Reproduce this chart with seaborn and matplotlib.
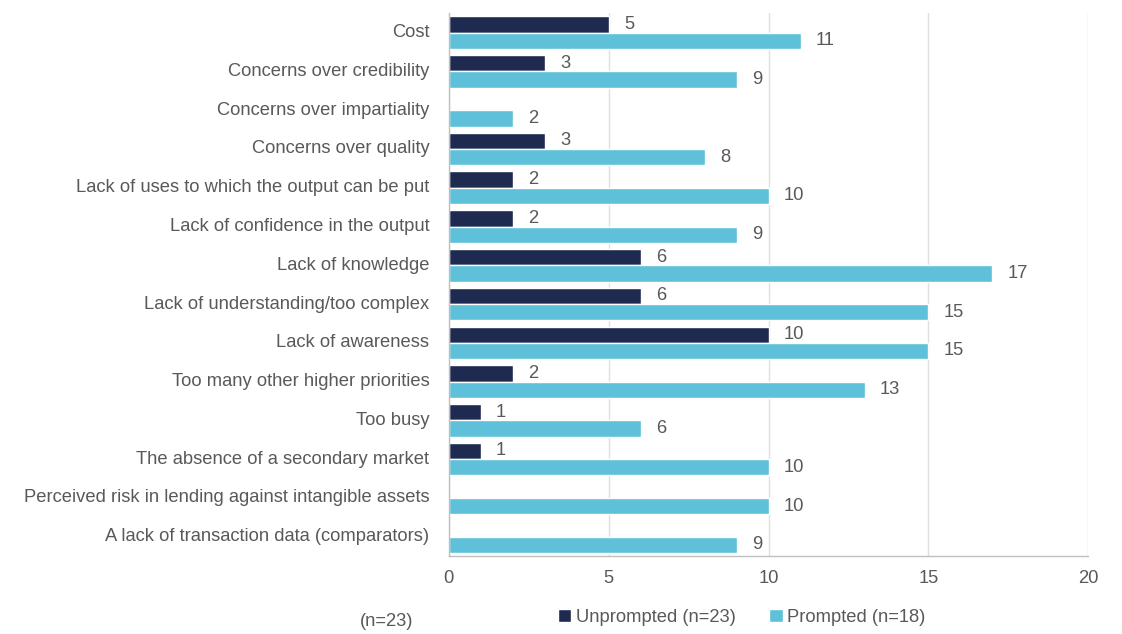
import matplotlib
matplotlib.use("Agg")
import matplotlib.pyplot as plt
from matplotlib.patches import Patch
import seaborn as sns
import pandas as pd

categories = [
    "Cost",
    "Concerns over credibility",
    "Concerns over impartiality",
    "Concerns over quality",
    "Lack of uses to which the output can be put",
    "Lack of confidence in the output",
    "Lack of knowledge",
    "Lack of understanding/too complex",
    "Lack of awareness",
    "Too many other higher priorities",
    "Too busy",
    "The absence of a secondary market",
    "Perceived risk in lending against intangible assets",
    "A lack of transaction data (comparators)",
]
unprompted = [5, 3, 0, 3, 2, 2, 6, 6, 10, 2, 1, 1, 0, 0]
prompted = [11, 9, 2, 8, 10, 9, 17, 15, 15, 13, 6, 10, 10, 9]
series_names = ["Unprompted (n=23)", "Prompted (n=18)"]
x_ticks = [0, 5, 10, 15, 20]
footnote = "(n=23)"

NAVY = "#1f2a50"
SKY = "#5ec1d9"
TEXT = "#595959"
FS = 13.2

df = pd.DataFrame({
    "reason": categories * 2,
    "count": unprompted + prompted,
    "group": [series_names[0]] * len(categories) + [series_names[1]] * len(categories),
})

sns.set_theme(style="white")
plt.rcParams["font.family"] = ["Liberation Sans", "DejaVu Sans"]

fig = plt.figure(figsize=(11.22, 6.34), dpi=100)
ax = fig.add_axes([0.400, 0.123, 0.570, 0.856])

sns.barplot(
    data=df, y="reason", x="count", hue="group", order=categories,
    hue_order=series_names, palette=[NAVY, SKY], orient="h",
    width=0.84, gap=0, saturation=1, legend=False, ax=ax,
)

for container, vals in zip(ax.containers, [unprompted, prompted]):
    labels = [str(v) if v > 0 else "" for v in vals]
    ax.bar_label(container, labels=labels, padding=11, fontsize=FS, color=TEXT)

ax.set_xlim(0, 20)
ax.set_ylim(13.5, -0.5)
ax.set_xticks(x_ticks)
ax.set_xlabel("")
ax.set_ylabel("")
ax.grid(axis="x", color="#e0e0e0", linewidth=1)
ax.set_axisbelow(True)
for side in ["top", "right"]:
    ax.spines[side].set_visible(False)
for side in ["left", "bottom"]:
    ax.spines[side].set_color("#bfbfbf")
    ax.spines[side].set_linewidth(1)
ax.tick_params(axis="y", length=0, pad=14, labelsize=FS, labelcolor=TEXT)
ax.tick_params(axis="x", length=0, pad=10, labelsize=FS, labelcolor=TEXT)
for lbl in ax.get_yticklabels():
    lbl.set_va("center")

handles = [Patch(facecolor=NAVY), Patch(facecolor=SKY)]
fig.legend(handles, series_names, loc="center", bbox_to_anchor=(0.661, 0.026),
           ncol=2, frameon=False, fontsize=FS, labelcolor=TEXT,
           handlelength=0.75, handleheight=0.75, handletextpad=0.25, columnspacing=1.8)
fig.text(0.345, 0.02, footnote, fontsize=FS, color=TEXT, ha="center", va="center")

fig.savefig("out.png", dpi=100)
